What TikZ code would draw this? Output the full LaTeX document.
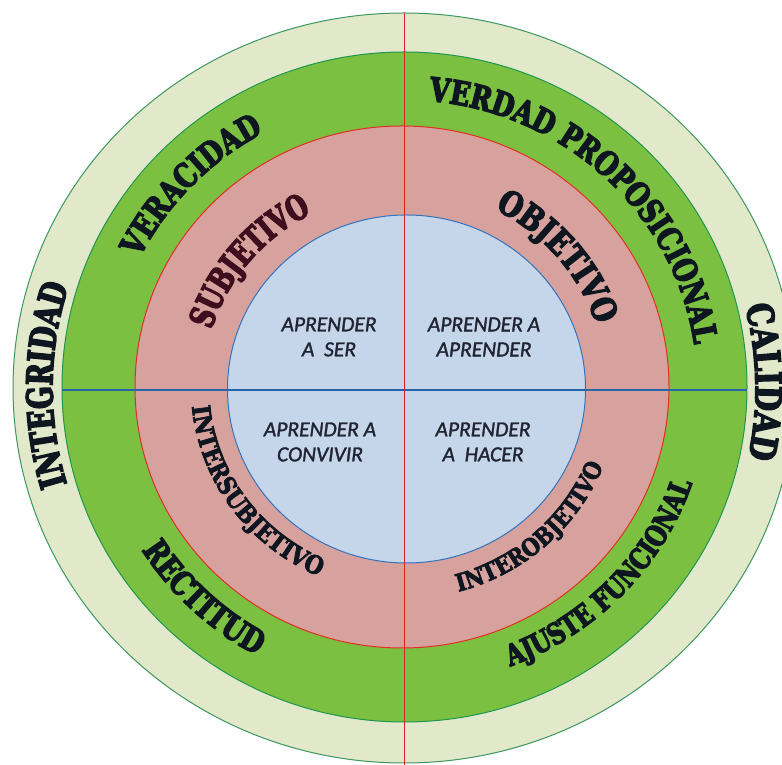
\documentclass[tikz,border=0pt]{standalone}
\usepackage{fontspec}
\usetikzlibrary{decorations.text}
\newfontfamily\fOutA{DejaVu Serif Bold}[FakeStretch=0.74,FakeBold=4]
\newfontfamily\fOutB{DejaVu Serif Bold}[FakeStretch=0.81,FakeBold=4]
\newfontfamily\fGrn{DejaVu Serif Bold}[FakeStretch=0.785,FakeBold=4]
\newfontfamily\fSubj{DejaVu Serif Bold}[FakeStretch=0.71,FakeBold=4]
\newfontfamily\fObj{DejaVu Serif Bold}[FakeStretch=0.80,FakeBold=4]
\newfontfamily\fInt{DejaVu Serif Bold}[FakeStretch=0.87,FakeBold=3]
\newfontfamily\fSansIt{Carlito}[FakeBold=1.5]
\newcommand\tOutA{\fOutA\fontsize{36}{36}\selectfont}
\newcommand\tOutB{\fOutB\fontsize{36}{36}\selectfont}
\newcommand\tGrnL{\fGrn\fontsize{33}{33}\selectfont}
\newcommand\tGrnS{\fGrn\fontsize{29}{29}\selectfont}
\newcommand\tSubj{\fSubj\fontsize{34}{34}\selectfont}
\newcommand\tObj{\fObj\fontsize{34}{34}\selectfont}
\newcommand\tIntA{\fInt\fontsize{25}{25}\selectfont}
\newcommand\tIntB{\fInt\fontsize{24}{24}\selectfont}
\definecolor{outerfill}{RGB}{226,233,203}
\definecolor{outerline}{RGB}{60,150,95}
\definecolor{greenfill}{RGB}{124,192,66}
\definecolor{greenline}{RGB}{30,150,80}
\definecolor{pinkfill}{RGB}{215,162,158}
\definecolor{redline}{RGB}{225,45,35}
\definecolor{bluefill}{RGB}{198,214,234}
\definecolor{blueline}{RGB}{50,115,190}
\definecolor{hlinecol}{RGB}{40,100,170}
\definecolor{vlinecol}{RGB}{220,35,35}
\definecolor{wordink}{RGB}{14,22,32}
\definecolor{subjink}{RGB}{62,14,30}
\definecolor{innerink}{RGB}{32,36,52}
\tikzset{
  ringfill/.style 2 args={fill=#1, draw=#2, line width=1pt},
  arcword/.style 2 args={decorate, decoration={text along path, text align=center, text color=wordink, text={|#1|#2}}},
  innertext/.style={align=center, inner sep=0pt, text=innerink, font=\fSansIt\itshape\fontsize{21.5}{25}\selectfont},
}
\begin{document}
\begin{tikzpicture}[x=1pt,y=1pt]
\useasboundingbox (0,0) rectangle (782,765);
\coordinate (Oo) at (404,377);
\coordinate (Og) at (404.5,378);
\coordinate (Or) at (402,378);
\coordinate (Ob) at (406.5,376);
% rings
\path[ringfill={outerfill}{outerline}] (Oo) ellipse [x radius=391pt, y radius=375pt];
\path[ringfill={greenfill}{greenline}] (Og) ellipse [x radius=342.5pt, y radius=335pt];
\path[ringfill={pinkfill}{redline}] (Or) ellipse [x radius=267pt, y radius=261pt];
\path[ringfill={bluefill}{blueline}] (Ob) ellipse [x radius=179pt, y radius=174pt];
% axes
\coordinate (hl) at (62,375);
\coordinate (hr) at (747,375);
\coordinate (vt) at (404.5,752);
\coordinate (vb) at (404.5,0);
\draw[hlinecol, line width=1.4pt] (hl) -- (hr);
\draw[vlinecol, line width=1.3pt] (vt) -- (vb);
% outer ring words
\path[arcword={\tOutA}{INTEGRIDAD}] (Oo) ++(239.5:351.5pt and 338.5pt) arc[start angle=239.5, end angle=119.5, x radius=351.5pt, y radius=338.5pt];
\path[arcword={\tOutB}{CALIDAD}] (Oo) ++(61:351.5pt and 338.5pt) arc[start angle=61, end angle=-59, x radius=351.5pt, y radius=338.5pt];
% green ring words
\path[arcword={\tGrnL}{VERACIDAD}] (Og) ++(196.4:296pt and 289pt) arc[start angle=196.4, end angle=76.4, x radius=296pt, y radius=289pt];
\path[arcword={\tGrnL}{VERDAD PROPOSICIONAL}] (Og) ++(106.65:293pt and 287pt) arc[start angle=106.65, end angle=-13.35, x radius=293pt, y radius=287pt];
\path[arcword={\tGrnL}{RECTITUD}] (Og) ++(166.6:311pt and 305pt) arc[start angle=166.6, end angle=286.6, x radius=311pt, y radius=305pt];
\path[arcword={\tGrnS}{AJUSTE FUNCIONAL}] (Og) ++(256.1:304pt and 298pt) arc[start angle=256.1, end angle=376.1, x radius=304pt, y radius=298pt];
% red ring words
\path[arcword={\tSubj}{SUBJETIVO}, decoration={text color=subjink}] (Or) ++(200.3:199.5pt and 194.5pt) arc[start angle=200.3, end angle=80.3, x radius=199.5pt, y radius=194.5pt];
\path[arcword={\tObj}{OBJETIVO}] (Or) ++(100.15:204.5pt and 199.5pt) arc[start angle=100.15, end angle=-19.85, x radius=204.5pt, y radius=199.5pt];
\path[arcword={\tIntA}{INTERSUBJETIVO}] (Or) ++(155.8:211pt and 206pt) arc[start angle=155.8, end angle=275.8, x radius=211pt, y radius=206pt];
\path[arcword={\tIntB}{INTEROBJETIVO}] (Or) ++(252:217pt and 212pt) arc[start angle=252, end angle=372, x radius=217pt, y radius=212pt];
% inner quadrants
\node[innertext] (ser) at (329,428) {APRENDER\\A\ \ SER};
\node[innertext] (aprender) at (484,428) {APRENDER A\\APRENDER};
\node[innertext] (convivir) at (320,323) {APRENDER A\\CONVIVIR};
\node[innertext] (hacer) at (483,323) {APRENDER\\A\ \ HACER};
\end{tikzpicture}
\end{document}
